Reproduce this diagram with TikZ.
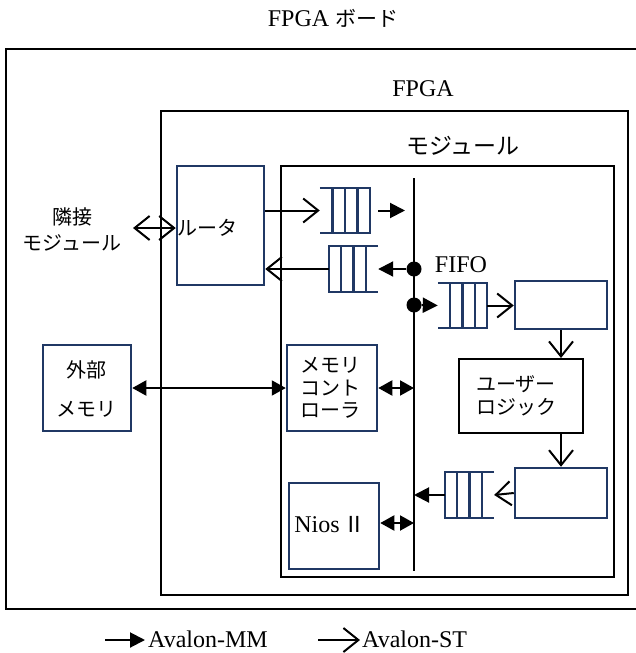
\documentclass[tikz,border=0pt]{standalone}
\usepackage{fontspec}
\setmainfont{Liberation Serif}
\newfontfamily\jp{Noto Sans CJK JP}
\usetikzlibrary{arrows.meta,calc}
\definecolor{navy}{RGB}{32,56,100}
\begin{document}
\begin{tikzpicture}[x=1pt,y=-1pt,
  outer/.style={draw,line width=2.5pt,inner sep=0},
  plain/.style={draw,line width=2pt,inner sep=0},
  bluebox/.style={draw=navy,line width=2.5pt,inner sep=0},
  qnode/.style={inner sep=0},
  qline/.style={draw=navy,line width=2.5pt},
  dot/.style={circle,fill,inner sep=0,minimum size=15pt},
  con/.style={line width=2pt},
  mm/.style={con,-{Triangle[length=15pt,width=15pt]}},
  mmboth/.style={con,{Triangle[length=14pt,width=15pt]}-{Triangle[length=14pt,width=15pt]}},
  st/.style={con,-{Straight Barb[length=15pt,width=24pt]}},
  stboth/.style={con,{Straight Barb[length=15pt,width=24pt]}-{Straight Barb[length=15pt,width=24pt]}},
  lat/.style={font=\fontsize{24}{28}\selectfont,inner sep=0},
  jpt/.style={font=\jp\fontsize{20}{26}\selectfont,inner sep=0,align=center}]
\useasboundingbox (0,0) rectangle (636,653);
\clip (0,0) rectangle (636,653);
% frames
\node[outer,minimum width=644pt,minimum height=560pt] (board) at (328,329) {};
\node[plain,minimum width=467pt,minimum height=484pt] (fpga) at (394.5,353) {};
\node[plain,minimum width=333pt,minimum height=411pt] (module) at (447.5,371.5) {};
% titles
\node[lat] (tboard) at (333,18) {FPGA {\jp\fontsize{21}{26}\selectfont ボード}};
\node[lat] (tfpga) at (423,89) {FPGA};
\node[jpt,font=\jp\fontsize{23}{26}\selectfont] (tmodule) at (463,146) {モジュール};
% boxes
\node[bluebox,minimum width=87pt,minimum height=119pt] (router) at (220.5,225.5) {};
\node[jpt,anchor=west] (trouter) at (177,228) {ルータ};
\node[bluebox,minimum width=88pt,minimum height=86pt] (extmem) at (87,388) {};
\node[jpt,font=\jp\fontsize{20}{39}\selectfont] (textmem) at (86,389) {外部\\メモリ};
\node[bluebox,minimum width=90pt,minimum height=86pt] (memctrl) at (332,388) {};
\node[jpt,font=\jp\fontsize{20}{22.5}\selectfont] (tmemctrl) at (330,388) {メモリ\\コント\\ローラ};
\node[bluebox,minimum width=90pt,minimum height=86pt] (nios) at (334,526) {};
\node[lat] (tnios) at (330,525) {Nios\,{\jp\fontsize{22}{26}\selectfont Ⅱ}};
\node[plain,minimum width=124pt,minimum height=74pt] (ulogic) at (521,396) {};
\node[jpt,font=\jp\fontsize{20}{23}\selectfont] (tulogic) at (516,396) {ユーザー\\ロジック};
\node[bluebox,minimum width=92pt,minimum height=48pt] (box3) at (561,305) {};
\node[bluebox,minimum width=92pt,minimum height=50pt] (box4) at (561,493) {};
\node[jpt] (tneigh) at (72,229) {隣接\\モジュール};
\node[lat] (tfifo) at (461,265) {FIFO};
% queues
\node[qnode,minimum width=50pt,minimum height=45pt] (q1) at (345,210.5) {};
\node[qnode,minimum width=49pt,minimum height=46pt] (q2) at (353.5,269) {};
\node[qnode,minimum width=49pt,minimum height=45pt] (q3) at (462.5,305.5) {};
\node[qnode,minimum width=49pt,minimum height=46pt] (q4) at (469.5,495) {};
\draw[qline] (q1.north west) -- (q1.north east) -- (q1.south east) -- (q1.south west);
\draw[qline] (q3.north west) -- (q3.north east) -- (q3.south east) -- (q3.south west);
\draw[qline] (q2.north east) -- (q2.north west) -- (q2.south west) -- (q2.south east);
\draw[qline] (q4.north east) -- (q4.north west) -- (q4.south west) -- (q4.south east);
\foreach \q in {q1,q2,q3,q4}{
  \foreach \f in {0.25,0.5,0.75}{
    \draw[qline] ($(\q.north west)!\f!(\q.north east)$) -- ($(\q.south west)!\f!(\q.south east)$);
  }
}
% bus
\coordinate (bt) at (414,178);
\coordinate (bb) at (414,571);
\draw[con] (bt) -- (bb);
\node[dot] (d1) at (414,269) {};
\node[dot] (d2) at (414,305) {};
% connectors
\draw[st] (router.east |- q1.west) -- (q1.west);
\draw[mm,shorten <=8pt,shorten >=9pt] (q1.east) -- (q1.east -| bt);
\draw[mm] (d1) -- (q2.east);
\draw[st] (q2.west) -- (q2.west -| router.east);
\draw[mm] (d2) -- (q3.west);
\draw[st] (q3.east) -- (q3.east -| box3.west);
\draw[st] (box3.south) -- (box3.south |- ulogic.north);
\draw[st] (ulogic.south -| box4.north) -- (box4.north);
\draw[st] (box4.west) -- (q4.east);
\draw[mm] (q4.west) -- (q4.west -| bt);
\draw[mmboth] (memctrl.east) -- (memctrl.east -| bt);
\draw[mmboth] (nios.east |- 0,523) -- (bt |- 0,523);
\draw[mmboth] (extmem.east) -- (memctrl.west);
\coordinate (nb) at (133,228);
\draw[stboth] (nb) -- (nb -| router.west);
% legend
\coordinate (la1) at (105,640);
\coordinate (la2) at (145,640);
\draw[mm] (la1) -- (la2);
\node[lat,anchor=west] (tmm) at (148,639) {Avalon-MM};
\coordinate (lb1) at (318,640);
\coordinate (lb2) at (360,640);
\draw[st] (lb1) -- (lb2);
\node[lat,anchor=west] (tst) at (362,639) {Avalon-ST};
\end{tikzpicture}
\end{document}
